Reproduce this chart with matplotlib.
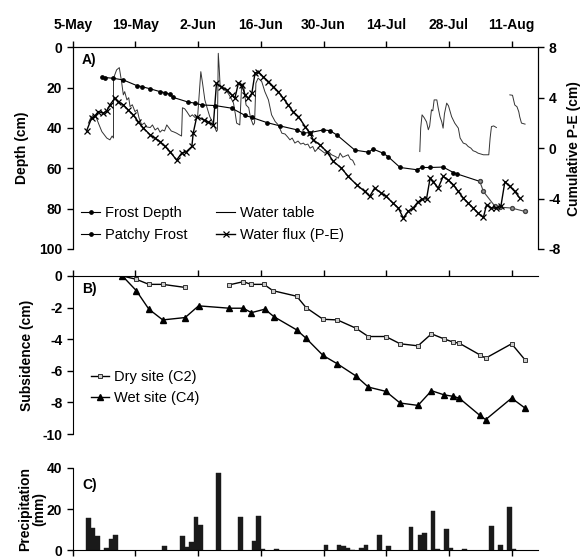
import numpy as np
import matplotlib
matplotlib.use("Agg")
import matplotlib.pyplot as plt
from matplotlib.lines import Line2D

plt.rcParams['font.family'] = ['Liberation Sans', 'DejaVu Sans']
plt.rcParams['font.size'] = 10
plt.rcParams['font.weight'] = 'bold'
plt.rcParams['axes.labelweight'] = 'bold'
plt.rcParams['axes.unicode_minus'] = False

# ---- data (days since 5-May) ----
tick_days = [0, 14, 28, 42, 56, 70, 84, 98]
tick_labels = ['5-May', '19-May', '2-Jun', '16-Jun', '30-Jun', '14-Jul', '28-Jul', '11-Aug']

frost_day = [6.5, 7.2, 9.1, 11.3, 14.3, 15.4, 17.3, 19.5, 20.6, 21.7, 22.5, 25.8, 27.3, 28.8,
             31.8, 35.5, 38.5, 40.0, 43.3, 46.3, 50.0, 51.5, 53.0, 55.9, 57.4, 59.0, 63.0,
             66.0, 67.1, 69.3, 70.4, 73.1, 76.8, 77.9, 79.8, 82.7, 85.0, 85.7, 90.9]
frost_depth = [14.9, 15.0, 15.4, 16.2, 19.0, 19.5, 20.6, 22.0, 22.5, 23.3, 24.9, 27.2, 27.7, 28.6,
               28.9, 30.2, 33.8, 34.8, 37.3, 39.0, 40.9, 42.5, 42.3, 41.0, 41.3, 43.5, 51.0,
               52.0, 50.5, 52.5, 54.2, 59.6, 60.7, 59.6, 59.6, 59.4, 62.1, 62.7, 66.5]

patchy_day = [90.9, 91.7, 94.3, 95.5, 98.0, 101.0]
patchy_depth = [66.5, 71.5, 78.9, 79.3, 79.7, 81.4]

wt_day = [3.5, 4.0, 4.6, 5.2, 5.8, 6.5, 7.6, 8.3, 8.8, 9.1, 9.1, 9.8, 10.4, 10.9, 11.3, 11.6,
          12.1, 12.5, 12.8, 13.3, 13.9, 14.4, 14.8, 15.4, 16.0, 16.5, 17.3, 17.8, 18.4, 19.0,
          19.5, 20.0, 20.5, 21.0, 21.5, 22.0, 22.6, 23.2, 23.8, 24.3, 24.5, 25.0, 25.5, 26.2,
          26.7, 27.3, 27.9, 28.6, 29.0, 29.5, 30.0, 30.6, 31.2, 31.8, 32.1, 32.3, 32.5, 32.7,
          32.9, 33.6, 34.2, 34.7, 35.3, 35.9, 36.3, 36.6, 37.3, 37.7, 38.1, 38.7, 39.3, 39.7,
          40.0, 40.3, 40.6, 40.9, 41.4, 42.2, 42.9, 43.7, 44.4, 45.2, 45.9, 46.7, 47.4, 48.0,
          48.5, 49.0, 49.6, 50.3, 50.9, 51.5, 51.9, 52.5, 53.0, 53.6, 54.1, 54.8, 55.4, 56.3,
          57.0, 57.8, 58.5, 59.3, 59.7, 60.3, 60.8, 61.5, 62.0, 62.5, 63.0, np.nan,
          77.5, 77.7, 78.0, 78.5, 79.0, 79.4, 79.7, 80.1, 80.4, 80.7, 81.3, 81.6, 82.0, 82.4,
          82.7, 83.0, 83.5, 83.9, 84.3, 84.6, 85.3, 86.1, 86.5, 87.2, 87.8, 88.3, 88.9, 89.4,
          90.0, 90.5, 91.2, 91.7, 92.9, 93.2, 93.5, 94.0, 94.6, np.nan,
          97.6, 98.2, 98.7, 99.2, 99.6, 99.8, 100.2, 101.0]
wt_depth = [37.6, 35.0, 33.5, 34.5, 38.0, 41.8, 45.0, 45.9, 44.0, 45.0, 15.4, 11.2, 10.1, 17.0,
            23.6, 22.0, 26.1, 25.0, 29.4, 28.5, 31.9, 31.0, 35.0, 38.5, 37.5, 39.5, 39.8, 38.5,
            41.0, 40.0, 42.1, 41.0, 41.5, 38.5, 40.0, 41.5, 42.0, 42.6, 43.4, 44.0, 30.0, 30.5,
            32.0, 34.4, 33.5, 34.8, 34.0, 12.1, 18.0, 26.1, 30.0, 34.4, 37.0, 40.1, 41.8, 41.0,
            3.0, 10.0, 18.7, 20.3, 21.5, 22.8, 25.0, 27.7, 33.0, 37.6, 38.5, 19.5, 17.8, 28.6,
            30.0, 35.0, 36.8, 38.5, 37.5, 17.8, 15.3, 17.0, 22.0, 26.1, 33.5, 36.8, 38.5, 42.6,
            43.0, 44.5, 45.9, 45.0, 47.5, 46.5, 48.0, 47.5, 48.4, 48.0, 50.0, 49.2, 51.7, 50.0,
            51.0, 52.5, 51.5, 53.3, 54.0, 55.0, 52.5, 54.5, 54.0, 53.3, 55.5, 56.0, 58.3, np.nan,
            51.7, 40.0, 33.5, 35.0, 37.0, 40.9, 39.0, 31.0, 31.5, 26.1, 26.1, 30.0, 34.4, 37.0,
            40.1, 33.0, 27.7, 29.0, 32.0, 34.4, 37.6, 40.1, 45.0, 47.5, 48.0, 49.2, 50.0, 51.3,
            51.8, 52.5, 53.0, 53.3, 53.3, 45.0, 39.3, 39.0, 39.8, np.nan,
            23.6, 23.8, 28.6, 29.5, 32.0, 34.4, 37.6, 38.1]

pe_day = [3.1, 4.2, 5.0, 5.7, 6.8, 7.6, 8.3, 9.4, 10.2, 11.3, 12.4, 13.5, 14.6, 15.8, 17.3,
          18.4, 19.5, 20.6, 21.7, 23.2, 24.3, 25.4, 26.6, 26.9, 27.7, 29.2, 30.3, 31.4, 32.1,
          33.1, 34.4, 35.5, 36.2, 37.0, 37.7, 38.5, 39.2, 40.0, 40.7, 41.4, 42.5, 43.7, 44.8,
          45.9, 47.0, 48.1, 49.2, 50.4, 51.9, 53.0, 53.7, 55.2, 56.7, 58.2, 60.0, 61.5, 63.4,
          65.2, 66.3, 67.4, 68.9, 70.0, 71.5, 72.7, 73.8, 74.9, 76.0, 77.0, 77.9, 79.0, 79.8,
          80.5, 81.6, 82.7, 83.8, 85.0, 86.1, 87.2, 88.3, 89.4, 90.5, 91.7, 92.4, 93.5, 94.6,
          95.6, 96.5, 97.6, 98.7, 99.8]
pe_val = [1.37, 2.38, 2.58, 2.90, 2.77, 2.95, 3.43, 3.96, 3.69, 3.43, 3.03, 2.64, 2.11, 1.58,
          1.05, 0.79, 0.52, 0.13, -0.27, -0.95, -0.40, -0.27, 0.13, 1.19, 2.50, 2.24, 2.06,
          1.85, 5.15, 4.88, 4.62, 4.22, 3.96, 5.15, 5.01, 4.22, 3.96, 4.36, 5.94, 6.07, 5.67,
          5.28, 4.88, 4.48, 3.96, 3.43, 2.90, 2.50, 1.71, 1.19, 0.66, 0.26, -0.27, -1.06, -1.58,
          -2.25, -2.90, -3.44, -3.83, -3.17, -3.57, -3.83, -4.36, -4.75, -5.54, -5.02, -4.75,
          -4.30, -4.05, -4.02, -2.38, -2.65, -3.17, -2.25, -2.51, -2.91, -3.44, -3.96, -4.36,
          -4.75, -5.15, -5.50, -4.49, -4.75, -4.75, -4.62, -2.65, -3.04, -3.44, -3.96]

dry_day = [11.1, 14.2, 17.0, 20.1, 25.0, np.nan, 34.8, 38.1, 39.8, 42.7, 44.7, 50.0, 52.1, 55.9,
           59.1, 63.2, 66.0, 69.9, 73.1, 77.1, 80.1, 82.9, 85.0, 86.3, 90.9, 92.2, 98.0, 101.0]
dry_sub = [0.0, -0.21, -0.53, -0.53, -0.72, np.nan, -0.57, -0.36, -0.53, -0.53, -0.93, -1.28,
           -2.0, -2.74, -2.78, -3.3, -3.83, -3.83, -4.29, -4.42, -3.66, -3.98, -4.19, -4.25,
           -4.99, -5.2, -4.29, -5.31]
wet_day = [11.1, 14.2, 17.0, 20.1, 25.1, 28.1, 35.0, 38.1, 39.9, 42.9, 44.9, 50.0, 52.1, 55.9,
           59.1, 63.2, 66.0, 69.9, 73.1, 77.1, 80.1, 82.9, 85.0, 86.3, 90.9, 92.2, 98.0, 101.0]
wet_sub = [0.0, -0.93, -2.1, -2.78, -2.63, -1.89, -2.04, -2.04, -2.32, -2.1, -2.57, -3.41,
           -3.94, -5.03, -5.56, -6.32, -7.03, -7.3, -8.04, -8.19, -7.26, -7.52, -7.62, -7.73,
           -8.82, -9.09, -7.73, -8.36]

precip_day = [3, 4, 5, 7, 8, 9, 20, 24, 25, 26, 27, 28, 32, 37, 40, 41, 42, 45, 56, 59, 60, 61,
              62, 64, 65, 68, 70, 75, 77, 78, 80, 81, 83, 84, 87, 93, 95, 97, 98]
precip_mm = [15.9, 11.0, 6.8, 1.1, 5.6, 7.3, 2.3, 6.8, 1.6, 4.0, 16.3, 12.4, 37.6, 16.0, 4.8,
             16.6, 0.9, 0.9, 2.8, 2.8, 2.2, 1.4, 0.4, 1.4, 2.6, 7.6, 2.2, 11.2, 7.3, 8.6, 19.0,
             0.5, 10.4, 1.4, 0.7, 11.8, 2.6, 21.3, 0.6]

XMAX = 103.9

fig = plt.figure(figsize=(5.87, 5.58), dpi=100)
L, W = 0.1239, 0.7927
axA = fig.add_axes([L, 0.5538, W, 0.3615])
axB = fig.add_axes([L, 0.2222, W, 0.2832])
axC = fig.add_axes([L, 0.0135, W, 0.1478])

tick_kw = dict(direction='out', length=4, width=1, labelsize=10)

# ---- Panel A ----
axA.plot(wt_day, wt_depth, color='#333333', lw=0.7, zorder=2)
axA.plot(frost_day, frost_depth, color='black', lw=0.8, marker='o', ms=2.4, zorder=3)
axA.plot(patchy_day, patchy_depth, color='#444444', lw=0.8, marker='o', ms=2.8,
         mfc='#999999', mec='#444444', zorder=3)
axA.set_xlim(0, XMAX)
axA.set_ylim(100, 0)
axA.set_yticks([0, 20, 40, 60, 80, 100])
axA.xaxis.tick_top()
axA.set_xticks(tick_days)
axA.set_xticklabels(tick_labels)
axA.tick_params(axis='both', **tick_kw)
axA.tick_params(axis='x', pad=7)
axA.spines['bottom'].set_visible(False)
axA.set_ylabel('Depth (cm)')
axA.yaxis.set_label_coords(-0.095, 0.5)
axA.text(0.02, 0.97, 'A)', transform=axA.transAxes, ha='left', va='top', fontsize=10,
         fontweight='bold')

ax2 = axA.twinx()
ax2.plot(pe_day, pe_val, color='black', lw=1.0, marker='x', ms=4.5, mew=0.9, zorder=3)
ax2.set_ylim(-8, 8)
ax2.set_yticks([-8, -4, 0, 4, 8])
ax2.set_yticklabels(['-8', '-4', '0', '4', '8'])
ax2.tick_params(axis='y', **tick_kw)
ax2.spines['bottom'].set_visible(False)
ax2.set_ylabel('Cumulative P-E (cm)', rotation=90)
ax2.yaxis.set_label_coords(1.062, 0.5)

handles = [Line2D([], [], color='black', lw=0.8, marker='o', ms=2.4),
           Line2D([], [], color='black', lw=0.8, marker='o', ms=2.4),
           Line2D([], [], color='black', lw=0.8),
           Line2D([], [], color='black', lw=1.0, marker='x', ms=4.5, mew=0.9)]
labels = ['Frost Depth', 'Patchy Frost', 'Water table', 'Water flux (P-E)']
ax2.legend(handles, labels, ncol=2, loc='lower left', bbox_to_anchor=(-0.01, -0.03),
           frameon=False, prop={'weight': 'normal', 'size': 10.5}, handlelength=1.3,
           handletextpad=0.3, columnspacing=2.0, labelspacing=0.55)

# ---- Panel B ----
axB.plot(dry_day, dry_sub, color='black', lw=1.0, marker='s', ms=3.3, mfc='#cccccc',
         mec='#333333', mew=0.7)
axB.plot(wet_day, wet_sub, color='black', lw=1.0, marker='^', ms=3.8, mfc='black', mec='black')
axB.set_xlim(0, XMAX)
axB.set_ylim(-10, 0)
axB.set_yticks([0, -2, -4, -6, -8, -10])
axB.xaxis.tick_top()
axB.set_xticks(tick_days)
axB.set_xticklabels([])
axB.tick_params(axis='both', **tick_kw)
axB.spines['bottom'].set_visible(False)
axB.spines['right'].set_visible(False)
axB.set_ylabel('Subsidence (cm)')
axB.yaxis.set_label_coords(-0.084, 0.5)
axB.text(0.02, 0.96, 'B)', transform=axB.transAxes, ha='left', va='top', fontsize=10,
         fontweight='bold')
axB.legend(['Dry site (C2)', 'Wet site (C4)'], loc='lower left', bbox_to_anchor=(0.01, 0.10),
           frameon=False, prop={'weight': 'normal', 'size': 10.5}, handlelength=1.3,
           handletextpad=0.3, labelspacing=0.5)

# ---- Panel C ----
axC.bar(precip_day, precip_mm, width=1.0, align='edge', color='#1a1a1a', edgecolor='#1a1a1a',
        linewidth=0.3)
axC.set_xlim(0, XMAX)
axC.set_ylim(0, 40)
axC.set_yticks([0, 20, 40])
axC.set_xticks(tick_days)
axC.set_xticklabels([])
axC.tick_params(axis='both', **tick_kw)
axC.spines['top'].set_visible(False)
axC.spines['right'].set_visible(False)
axC.set_ylabel('Precipitation\n(mm)', linespacing=1.05)
axC.yaxis.set_label_coords(-0.057, 0.5)
axC.text(0.02, 0.88, 'C)', transform=axC.transAxes, ha='left', va='top', fontsize=10,
         fontweight='bold')

fig.savefig('out.png', dpi=100)
